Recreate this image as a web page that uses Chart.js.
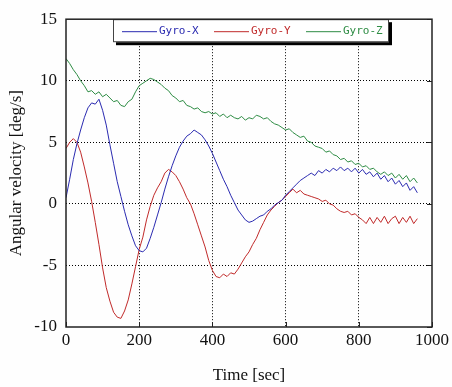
<!DOCTYPE html>
<html>
<head>
<meta charset="utf-8">
<script src="https://cdn.jsdelivr.net/npm/chart.js@4"></script>
<style>
  html, body { margin: 0; padding: 0; background: #fefefe; }
  canvas { display: block; }
</style>
</head>
<body>
<canvas id="gyroChart" width="452" height="387"></canvas>
<script>
const timeSec = [0, 10, 20, 30, 40, 50, 60, 70, 80, 90,
    100, 110, 120, 130, 140, 150, 160, 170, 180, 190,
    200, 210, 220, 230, 240, 250, 260, 270, 280, 290,
    300, 310, 320, 330, 340, 350, 360, 370, 380, 390,
    400, 410, 420, 430, 440, 450, 460, 470, 480, 490,
    500, 510, 520, 530, 540, 550, 560, 570, 580, 590,
    600, 610, 620, 630, 640, 650, 660, 670, 680, 690,
    700, 710, 720, 730, 740, 750, 760, 770, 780, 790,
    800, 810, 820, 830, 840, 850, 860, 870, 880, 890,
    900, 910, 920, 930, 940, 950, 960];

const gyroX = [0.5, 2.0, 3.6, 4.9, 6.0, 7.0, 7.8, 8.2, 8.1, 8.5,
    7.6, 6.4, 4.8, 3.3, 1.8, 0.6, -0.6, -1.7, -2.6, -3.4,
    -3.8, -3.9, -3.6, -2.8, -1.9, -0.9, 0.1, 1.2, 2.2, 3.1,
    3.9, 4.6, 5.1, 5.5, 5.7, 6.0, 5.8, 5.6, 5.2, 4.7,
    4.1, 3.4, 2.7, 2.0, 1.4, 0.7, 0.1, -0.5, -0.9, -1.3,
    -1.5, -1.4, -1.2, -1.0, -0.9, -0.6, -0.4, -0.1, 0.1, 0.3,
    0.7, 1.0, 1.3, 1.6, 1.9, 2.1, 2.3, 2.5, 2.3, 2.7,
    2.5, 2.8, 2.6, 2.9, 2.7, 3.0, 2.7, 2.9, 2.6, 2.9,
    2.5, 2.8, 2.4, 2.6, 2.2, 2.5, 2.0, 2.3, 1.8, 2.1,
    1.6, 1.9, 1.4, 1.7, 1.1, 1.4, 0.9];

const gyroY = [4.5, 5.0, 5.3, 5.0, 4.2, 3.0, 1.7, 0.2, -1.5, -3.3,
    -5.2, -6.8, -7.9, -8.8, -9.2, -9.3, -8.7, -7.8, -6.5, -5.1,
    -3.7, -2.7, -1.3, -0.2, 0.7, 1.3, 1.8, 2.5, 2.8, 2.6,
    2.3, 1.8, 1.2, 0.5, 0.0, -0.8, -1.7, -2.6, -3.5, -4.6,
    -5.4, -5.9, -6.0, -5.7, -5.9, -5.6, -5.7, -5.3, -4.8, -4.3,
    -3.9, -3.3, -2.8, -2.1, -1.5, -0.9, -0.5, -0.2, 0.1, 0.3,
    0.6, 0.9, 1.2, 0.9, 1.1, 0.8, 0.7, 0.6, 0.5, 0.4,
    0.2, 0.3, 0.0, -0.1, -0.4, -0.6, -0.7, -0.6, -0.9, -0.8,
    -1.1, -1.3, -1.6, -1.1, -1.6, -1.1, -1.5, -1.0, -1.6, -1.2,
    -1.0, -1.6, -1.1, -1.5, -1.0, -1.6, -1.2];

const gyroZ = [11.8, 11.4, 10.9, 10.5, 10.0, 9.6, 9.1, 9.2, 8.9, 9.1,
    8.7, 8.9, 8.6, 8.3, 8.4, 8.0, 7.9, 8.3, 8.5, 9.1,
    9.6, 9.8, 10.0, 10.2, 10.1, 9.9, 9.7, 9.4, 9.2, 8.8,
    8.6, 8.3, 8.4, 8.0, 7.9, 7.7, 7.8, 7.5, 7.4, 7.5,
    7.3, 7.4, 7.1, 7.3, 7.0, 7.2, 7.0, 6.9, 7.1, 6.8,
    7.0, 6.9, 7.2, 7.1, 6.9, 7.0, 6.7, 6.5, 6.4, 6.2,
    6.0, 6.1, 5.8, 5.6, 5.4, 5.5, 5.1, 5.0, 4.7, 4.6,
    4.5, 4.2, 4.3, 4.0, 3.9, 3.6, 3.7, 3.4, 3.5, 3.2,
    3.3, 3.0, 3.1, 2.8, 2.9, 2.6, 2.4, 2.6, 2.3, 2.5,
    2.1, 2.4, 2.0, 2.3, 1.8, 2.1, 1.7];

const seriesNames = ['Gyro-X', 'Gyro-Y', 'Gyro-Z'];
const seriesColors = ['#2a2ab0', '#c02a2a', '#2e8c44'];
const xTicks = [0, 200, 400, 600, 800, 1000];
const yTicks = [-10, -5, 0, 5, 10, 15];

function toPoints(values) {
    return values.map((v, i) => ({ x: timeSec[i], y: v }));
}

// legend box inside the top of the plot, plus frame and inner tick marks
const boxLegend = {
    id: 'boxLegend',
    afterDraw(chart) {
        const c = chart.ctx;
        const area = chart.chartArea;
        const left = area.left + 47, top = area.top, w = 276, h = 23;
        c.save();
        c.fillStyle = '#000';
        c.fillRect(left + 3, top + 3, w, h);
        c.fillStyle = '#fff';
        c.fillRect(left, top, w, h);
        c.strokeStyle = '#444';
        c.lineWidth = 1;
        c.strokeRect(left + 0.5, top + 0.5, w - 1, h - 1);
        c.font = '11px "DejaVu Sans Mono"';
        c.textBaseline = 'middle';
        chart.data.datasets.forEach((ds, i) => {
            const x0 = left + 9 + i * 92;
            const y0 = top + 12;
            c.strokeStyle = ds.borderColor;
            c.beginPath();
            c.moveTo(x0, y0 + 0.5);
            c.lineTo(x0 + 35, y0 + 0.5);
            c.stroke();
            c.fillStyle = ds.borderColor;
            c.fillText(ds.label, x0 + 37, y0);
        });
        // small solid tick marks on the right and bottom edges
        c.strokeStyle = '#222';
        c.lineWidth = 1;
        c.beginPath();
        chart.scales.y.ticks.forEach(t => {
            const y = Math.round(chart.scales.y.getPixelForValue(t.value)) + 0.5;
            c.moveTo(area.right - 5, y);
            c.lineTo(area.right, y);
        });
        chart.scales.x.ticks.forEach(t => {
            const x = Math.round(chart.scales.x.getPixelForValue(t.value)) + 0.5;
            c.moveTo(x, area.bottom - 5);
            c.lineTo(x, area.bottom);
        });
        c.stroke();
        // frame of the plot
        c.lineWidth = 1.5;
        c.strokeRect(area.left, area.top, area.right - area.left, area.bottom - area.top);
        c.restore();
    }
};

const gridColor = (ctx) => {
    const v = ctx.tick ? ctx.tick.value : null;
    return (v === ctx.scale.min || v === ctx.scale.max) ? 'rgba(0,0,0,0)' : '#000';
};

const ctx = document.getElementById('gyroChart').getContext('2d');

const gyroChart = new Chart(ctx, {
    type: 'line',
    data: {
        datasets: seriesNames.map((name, i) => ({
            label: name,
            data: toPoints([gyroX, gyroY, gyroZ][i]),
            borderColor: seriesColors[i],
            borderWidth: 1,
            pointRadius: 0,
            tension: 0,
            fill: false
        }))
    },
    options: {
        responsive: false,
        animation: false,
        layout: { padding: { left: 0, right: 19, top: 14, bottom: 0 } },
        plugins: {
            legend: { display: false },
            tooltip: { enabled: false }
        },
        scales: {
            x: {
                type: 'linear',
                min: 0,
                max: 1000,
                afterBuildTicks: (s) => { s.ticks = xTicks.map(v => ({ value: v })); },
                afterFit: (s) => { s.height = 60; },
                ticks: {
                    color: '#111',
                    padding: 3,
                    maxRotation: 0,
                    callback: (v) => String(v),
                    font: { family: '"Liberation Serif"', size: 17 }
                },
                grid: { color: gridColor, lineWidth: 1, drawTicks: false },
                border: { display: false, dash: [1, 2] },
                title: {
                    display: true,
                    text: 'Time [sec]',
                    color: '#111',
                    padding: { top: 4, bottom: 1 },
                    font: { family: '"Liberation Serif"', size: 17 }
                }
            },
            y: {
                type: 'linear',
                min: -10,
                max: 15,
                afterBuildTicks: (s) => { s.ticks = yTicks.map(v => ({ value: v })); },
                afterFit: (s) => { s.width = 66; },
                ticks: {
                    color: '#111',
                    padding: 9,
                    callback: (v) => String(v),
                    font: { family: '"Liberation Serif"', size: 17 }
                },
                grid: { color: gridColor, lineWidth: 1, drawTicks: false },
                border: { display: false, dash: [1, 2] },
                title: {
                    display: true,
                    text: 'Angular velocity [deg/s]',
                    color: '#111',
                    padding: { top: 6, bottom: 0 },
                    font: { family: '"Liberation Serif"', size: 17 }
                }
            }
        }
    },
    plugins: [boxLegend]
});
</script>
</body>
</html>
